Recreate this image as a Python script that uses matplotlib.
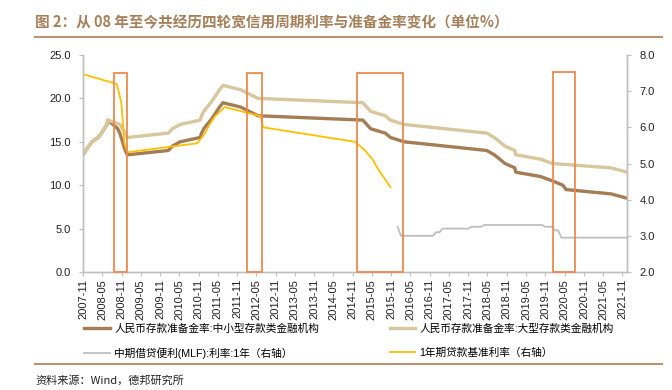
import pandas as pd
import matplotlib
matplotlib.use('Agg')
import matplotlib.pyplot as plt
import matplotlib.dates as mdates
from matplotlib.patches import Rectangle
from matplotlib.lines import Line2D

plt.rcParams['font.family'] = ['Liberation Sans', 'Noto Sans CJK SC', 'DejaVu Sans']

# 大型存款类金融机构准备金率
large_dates = ['2007-11-01', '2007-12-25', '2008-01-25', '2008-03-25', '2008-04-25',
               '2008-05-20', '2008-06-15', '2008-06-25', '2008-10-15', '2008-12-05',
               '2008-12-25', '2010-01-18', '2010-02-25', '2010-05-10', '2010-11-16',
               '2010-11-29', '2010-12-20', '2011-01-20', '2011-02-24', '2011-03-25',
               '2011-04-21', '2011-05-18', '2011-06-20', '2011-12-05', '2012-02-24',
               '2012-05-18', '2015-02-05', '2015-04-20', '2015-09-06', '2015-10-24',
               '2016-03-01', '2018-04-25', '2018-07-05', '2018-10-15', '2019-01-15',
               '2019-01-25', '2019-09-16', '2020-01-06', '2021-07-15', '2021-12-15']
large_rrr = [13.5, 14.5, 15.0, 15.5, 16.0,
             16.5, 17.0, 17.5, 17.0, 16.0,
             15.5, 16.0, 16.5, 17.0, 17.5,
             18.0, 18.5, 19.0, 19.5, 20.0,
             20.5, 21.0, 21.5, 21.0, 20.5,
             20.0, 19.5, 18.5, 18.0, 17.5,
             17.0, 16.0, 15.5, 14.5, 14.0,
             13.5, 13.0, 12.5, 12.0, 11.5]

# 中小型存款类金融机构准备金率
small_dates = ['2007-11-01', '2007-12-25', '2008-01-25', '2008-03-25', '2008-04-25',
               '2008-05-20', '2008-06-15', '2008-06-25', '2008-09-25', '2008-10-15',
               '2008-12-05', '2008-12-25', '2010-01-18', '2010-02-25', '2010-05-10',
               '2010-11-16', '2010-11-29', '2010-12-20', '2011-01-20', '2011-02-24',
               '2011-03-25', '2011-04-21', '2011-05-18', '2011-06-20', '2011-12-05',
               '2012-02-24', '2012-05-18', '2015-02-05', '2015-04-20', '2015-09-06',
               '2015-10-24', '2016-03-01', '2018-04-25', '2018-07-05', '2018-10-15',
               '2019-01-15', '2019-01-25', '2019-09-16', '2020-01-06', '2020-04-15',
               '2020-05-15', '2021-07-15', '2021-12-15']
small_rrr = [13.5, 14.5, 15.0, 15.5, 16.0,
             16.5, 17.0, 17.5, 16.5, 16.0,
             14.0, 13.5, 14.0, 14.5, 15.0,
             15.5, 16.0, 16.5, 17.0, 17.5,
             18.0, 18.5, 19.0, 19.5, 19.0,
             18.5, 18.0, 17.5, 16.5, 16.0,
             15.5, 15.0, 14.0, 13.5, 12.5,
             12.0, 11.5, 11.0, 10.5, 10.0,
             9.5, 9.0, 8.5]

# 中期借贷便利(MLF):利率:1年
mlf_dates = ['2016-01-01', '2016-02-01', '2016-12-01', '2017-01-01', '2017-02-01',
             '2017-03-01', '2017-11-01', '2017-12-01', '2018-03-01', '2018-04-01',
             '2019-10-01', '2019-11-01', '2020-01-01', '2020-02-01', '2020-03-01',
             '2020-04-01', '2021-12-15']
mlf_rate = [3.25, 3.00, 3.00, 3.10, 3.10,
            3.20, 3.20, 3.25, 3.25, 3.30,
            3.30, 3.25, 3.25, 3.15, 3.15,
            2.95, 2.95]

# 1年期贷款基准利率
loan_dates = ['2007-11-01', '2008-09-16', '2008-10-09', '2008-10-30', '2008-11-27',
              '2008-12-23', '2010-10-20', '2010-12-26', '2011-02-09', '2011-04-06',
              '2011-07-07', '2012-06-08', '2012-07-06', '2014-11-22', '2015-03-01',
              '2015-05-11', '2015-06-28', '2015-08-26', '2015-10-24']
loan_rate = [7.47, 7.20, 6.93, 6.66, 5.58,
             5.31, 5.56, 5.81, 6.06, 6.31,
             6.56, 6.31, 6.00, 5.60, 5.35,
             5.10, 4.85, 4.60, 4.35]

# 宽信用周期标注框
box_starts = ['2008-08-25', '2012-02-03', '2014-12-13', '2020-01-13']
box_ends = ['2008-12-21', '2012-06-28', '2016-02-19', '2020-08-04']
box_tops = [22.9, 22.9, 22.9, 23.0]

tick_labels = pd.date_range('2007-11-01', '2021-11-01', freq='6MS')

fig = plt.figure(figsize=(6.72, 3.9), dpi=100)
ax = fig.add_axes([83 / 672, 1 - 272 / 390, (627 - 83) / 672, (272 - 55) / 390])
ax2 = ax.twinx()

c_small = '#A47D55'
c_large = '#D8C69C'
c_mlf = '#BFBFBF'
c_loan = '#FFC000'

l1, = ax.plot(pd.to_datetime(small_dates), small_rrr, color=c_small, lw=2.4, zorder=2)
l2, = ax.plot(pd.to_datetime(large_dates), large_rrr, color=c_large, lw=2.4, zorder=3)
l3, = ax2.plot(pd.to_datetime(mlf_dates), mlf_rate, color=c_mlf, lw=1.3)
l4, = ax2.plot(pd.to_datetime(loan_dates), loan_rate, color=c_loan, lw=1.3)

for s, e, t in zip(box_starts, box_ends, box_tops):
    x0 = mdates.date2num(pd.Timestamp(s))
    x1 = mdates.date2num(pd.Timestamp(e))
    ax2.add_patch(Rectangle((x0, 2.0), x1 - x0, (t / 25.0) * 6.0, fill=False,
                            edgecolor='#EE8A4F', lw=1.3, zorder=5, clip_on=False))

ax.set_xlim(pd.Timestamp('2007-11-01'), pd.Timestamp('2021-12-14'))
ax.set_ylim(0, 25)
ax2.set_ylim(2, 8)
ax.set_yticks([0, 5, 10, 15, 20, 25])
ax.set_yticklabels(['%.1f' % v for v in [0, 5, 10, 15, 20, 25]])
ax2.set_yticks([2, 3, 4, 5, 6, 7, 8])
ax2.set_yticklabels(['%.1f' % v for v in [2, 3, 4, 5, 6, 7, 8]])
ax.set_xticks(tick_labels)
ax.set_xticklabels([d.strftime('%Y-%m') for d in tick_labels], rotation=90)

for a in (ax, ax2):
    a.spines['top'].set_visible(False)
    for sp in ('left', 'right', 'bottom'):
        a.spines[sp].set_color('#BFBFBF')
        a.spines[sp].set_linewidth(1.0)
    a.tick_params(axis='both', labelsize=8, color='#BFBFBF', length=3, width=0.8,
                  labelcolor='#222222', pad=2)
ax.tick_params(axis='y', pad=6)
ax2.tick_params(axis='y', pad=6)

handles = [l1, l3, l2, l4]
labels = ['人民币存款准备金率:中小型存款类金融机构', '中期借贷便利(MLF):利率:1年（右轴）',
          '人民币存款准备金率:大型存款类金融机构', '1年期贷款基准利率（右轴）']
fig.legend(handles, labels, loc='upper left', bbox_to_anchor=(80 / 672, 1 - 319 / 390),
           ncol=2, frameon=False, fontsize=7.7, handlelength=2.4, handletextpad=0.4,
           columnspacing=6.6, labelspacing=1.3, borderaxespad=0)

fig.text(35 / 672, 1 - 22 / 390, '图 2：从 08 年至今共经历四轮宽信用周期利率与准备金率变化（单位%）',
         fontsize=10.5, fontweight='bold', color='#A5805A', va='center',
         family=['Noto Sans CJK SC', 'DejaVu Sans'])
fig.add_artist(Line2D([35 / 672, 662 / 672], [1 - 37 / 390, 1 - 37 / 390], color='#B89474', lw=1.5))
fig.add_artist(Line2D([35 / 672, 662 / 672], [1 - 364 / 390, 1 - 364 / 390], color='#B89474', lw=1.5))
fig.text(35 / 672, 1 - 380 / 390, '资料来源：Wind，德邦研究所', fontsize=8, color='#222222', va='center',
         family=['Noto Sans CJK SC', 'DejaVu Sans'])

fig.savefig('out.png', dpi=100)
